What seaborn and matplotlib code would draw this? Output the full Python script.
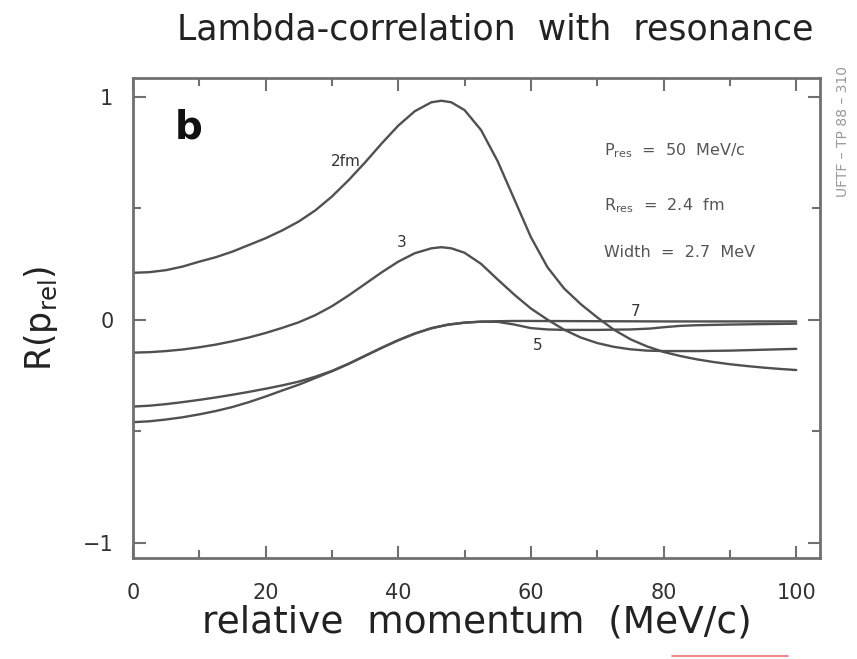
import matplotlib
matplotlib.use("Agg")
import matplotlib.pyplot as plt
from matplotlib.lines import Line2D
import numpy as np
import pandas as pd
import seaborn as sns

# ---- data ----
x_2fm = [0, 2.5, 5, 7.5, 10, 12.5, 15, 17.5, 20, 22.5, 25, 27.5, 30, 32.5, 35, 37.5, 40, 42.5, 45, 46.5, 48, 50,
         52.5, 55, 57.5, 60, 62.5, 65, 67.5, 70, 72.5, 75, 77.5, 80, 82.5, 85, 87.5, 90, 92.5, 95, 97.5, 100]
y_2fm = [0.210, 0.213, 0.222, 0.238, 0.260, 0.280, 0.305, 0.335, 0.365, 0.400, 0.440, 0.490, 0.552, 0.625, 0.705,
         0.790, 0.870, 0.935, 0.975, 0.982, 0.975, 0.940, 0.850, 0.710, 0.540, 0.370, 0.235, 0.140, 0.070, 0.010,
         -0.045, -0.088, -0.120, -0.145, -0.163, -0.178, -0.190, -0.200, -0.208, -0.215, -0.221, -0.226]

x_3fm = [0, 2.5, 5, 7.5, 10, 12.5, 15, 17.5, 20, 22.5, 25, 27.5, 30, 32.5, 35, 37.5, 40, 42.5, 45, 46.5, 48, 50,
         52.5, 55, 57.5, 60, 62.5, 65, 67.5, 70, 72.5, 75, 77.5, 80, 85, 90, 95, 100]
y_3fm = [-0.148, -0.146, -0.141, -0.134, -0.124, -0.112, -0.097, -0.080, -0.060, -0.037, -0.012, 0.020, 0.060,
         0.108, 0.160, 0.212, 0.260, 0.298, 0.320, 0.325, 0.320, 0.300, 0.250, 0.180, 0.112, 0.050, 0.000, -0.045,
         -0.080, -0.105, -0.122, -0.133, -0.139, -0.141, -0.141, -0.139, -0.135, -0.131]

x_5fm = [0, 2.5, 5, 7.5, 10, 12.5, 15, 17.5, 20, 22.5, 25, 27.5, 30, 32.5, 35, 37.5, 40, 42.5, 45, 47.5, 50, 52.5,
         55, 57.5, 60, 62.5, 65, 70, 75, 78, 80, 82.5, 85, 90, 95, 100]
y_5fm = [-0.390, -0.386, -0.379, -0.370, -0.360, -0.349, -0.337, -0.324, -0.310, -0.295, -0.278, -0.256, -0.230,
         -0.198, -0.162, -0.126, -0.092, -0.062, -0.038, -0.022, -0.013, -0.009, -0.010, -0.022, -0.038, -0.044,
         -0.046, -0.046, -0.044, -0.040, -0.034, -0.028, -0.025, -0.022, -0.020, -0.018]

x_7fm = [0, 2.5, 5, 7.5, 10, 12.5, 15, 17.5, 20, 22.5, 25, 27.5, 30, 32.5, 35, 37.5, 40, 42.5, 45, 47.5, 50, 52.5,
         55, 57.5, 60, 70, 80, 90, 100]
y_7fm = [-0.460, -0.456, -0.448, -0.438, -0.425, -0.410, -0.392, -0.370, -0.345, -0.318, -0.292, -0.262, -0.232,
         -0.199, -0.163, -0.127, -0.093, -0.063, -0.039, -0.023, -0.014, -0.009, -0.007, -0.006, -0.006, -0.007,
         -0.008, -0.008, -0.008]

curve_labels = ["2fm", "3", "5", "7"]
label_pos_x = [29.8, 39.8, 60.3, 75.0]
label_pos_y = [0.71, 0.345, -0.115, 0.035]

xticks = [0, 20, 40, 60, 80, 100]
yticks = [-1, 0, 1]
ytick_labels = ["\u22121", "0", "1"]

params = ["P$_{\\rm res}$  =  50  MeV/c", "R$_{\\rm res}$  =  2.4  fm", "Width  =  2.7  MeV"]

# ---- build table ----
frames = []
for name, xs, ys in [("2fm", x_2fm, y_2fm), ("3", x_3fm, y_3fm), ("5", x_5fm, y_5fm), ("7", x_7fm, y_7fm)]:
    frames.append(pd.DataFrame({"p": xs, "R": ys, "radius": name}))
df = pd.concat(frames, ignore_index=True)

sns.set_style("ticks")
plt.rcParams["font.family"] = ["DejaVu Sans"]

fig = plt.figure(figsize=(8.57, 6.59), dpi=100)
ax = fig.add_axes([0.155, 0.153, 0.802, 0.729])

line_col = "#505050"
sns.lineplot(data=df, x="p", y="R", hue="radius", palette=[line_col] * 4,
             legend=False, ax=ax, linewidth=1.7, sort=True, estimator=None)

ax.set_xlim(0, 103.6)
ax.set_ylim(-1.07, 1.085)

ax.set_xticks(xticks)
ax.set_xticks(np.arange(10, 101, 20), minor=True)
ax.set_yticks(yticks)
ax.set_yticklabels(ytick_labels)
ax.set_yticks([-0.5, 0.5], minor=True)

frame_col = "#707070"
for s in ax.spines.values():
    s.set_color(frame_col)
    s.set_linewidth(2.0)

ax.tick_params(which="both", direction="in", top=True, right=True, colors=frame_col,
               labelcolor="#333333", width=1.5)
ax.tick_params(which="major", length=9, labelsize=15)
ax.tick_params(axis="x", which="major", pad=18)
ax.tick_params(axis="y", which="major", pad=14)
ax.tick_params(which="minor", length=6)

ax.set_xlabel("relative  momentum  (MeV/c)", fontsize=27, color="#222222", labelpad=1)
ax.set_ylabel("R(p$_{\\rm rel}$)", fontsize=25, color="#222222", labelpad=16)

fig.text(0.578, 0.955, "Lambda-correlation  with  resonance", fontsize=25,
         ha="center", va="center", color="#222222")

for lab, lx, ly in zip(curve_labels, label_pos_x, label_pos_y):
    ax.text(lx, ly, lab, fontsize=11, color="#333333", ha="left", va="center")

ax.text(6.3, 0.86, "b", fontsize=28, fontweight="bold", color="#111111", ha="left", va="center")

for t, ty in zip(params, [0.76, 0.51, 0.30]):
    ax.text(71, ty, t, fontsize=11.5, color="#555555", ha="left", va="center")

fig.text(0.984, 0.80, "UFTF \u2013 TP 88 \u2013 310", rotation=90, fontsize=10,
         color="#999999", ha="center", va="center")

fig.add_artist(Line2D([0.784, 0.919], [0.004, 0.004], color="#f07070", linewidth=1.2,
                      transform=fig.transFigure))

fig.savefig("out.png", dpi=100)
